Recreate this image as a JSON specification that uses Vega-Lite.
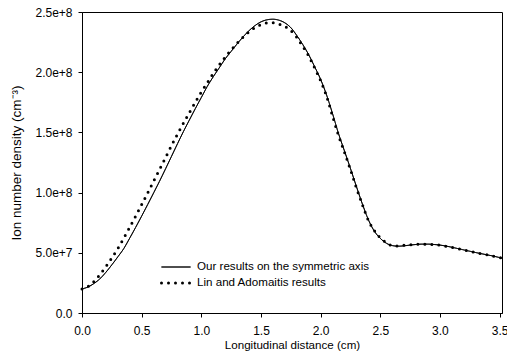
{
  "$schema": "https://vega.github.io/schema/vega-lite/v6.json",
  "width": 420,
  "height": 301,
  "autosize": {"type": "none"},
  "padding": {"left": 82, "top": 12, "right": 5, "bottom": 47},
  "background": "white",
  "config": {
    "font": "Liberation Sans",
    "view": {"stroke": "black", "strokeWidth": 1},
    "axis": {
      "domainColor": "black", "tickColor": "black", "labelColor": "black", "titleColor": "black",
      "grid": false, "tickSize": 4, "labelFontSize": 12, "titleFontSize": 11.6, "titleFontWeight": "normal",
      "labelFont": "Liberation Sans", "titleFont": "Liberation Sans"
    },
    "legend": {"labelFont": "Liberation Sans", "labelFontSize": 11.6, "labelColor": "black", "labelLimit": 0}
  },
  "data": {
    "values": [
      {"x": 0.00, "y": 2.0e7, "s": "Our results on the symmetric axis"},
      {"x": 0.05, "y": 2.16e7, "s": "Our results on the symmetric axis"},
      {"x": 0.10, "y": 2.45e7, "s": "Our results on the symmetric axis"},
      {"x": 0.15, "y": 2.84e7, "s": "Our results on the symmetric axis"},
      {"x": 0.20, "y": 3.38e7, "s": "Our results on the symmetric axis"},
      {"x": 0.25, "y": 4.0e7, "s": "Our results on the symmetric axis"},
      {"x": 0.30, "y": 4.66e7, "s": "Our results on the symmetric axis"},
      {"x": 0.35, "y": 5.35e7, "s": "Our results on the symmetric axis"},
      {"x": 0.40, "y": 6.22e7, "s": "Our results on the symmetric axis"},
      {"x": 0.45, "y": 7.12e7, "s": "Our results on the symmetric axis"},
      {"x": 0.50, "y": 8.05e7, "s": "Our results on the symmetric axis"},
      {"x": 0.55, "y": 9.0e7, "s": "Our results on the symmetric axis"},
      {"x": 0.60, "y": 9.97e7, "s": "Our results on the symmetric axis"},
      {"x": 0.65, "y": 1.095e8, "s": "Our results on the symmetric axis"},
      {"x": 0.70, "y": 1.197e8, "s": "Our results on the symmetric axis"},
      {"x": 0.75, "y": 1.301e8, "s": "Our results on the symmetric axis"},
      {"x": 0.80, "y": 1.405e8, "s": "Our results on the symmetric axis"},
      {"x": 0.85, "y": 1.507e8, "s": "Our results on the symmetric axis"},
      {"x": 0.90, "y": 1.603e8, "s": "Our results on the symmetric axis"},
      {"x": 0.95, "y": 1.698e8, "s": "Our results on the symmetric axis"},
      {"x": 1.00, "y": 1.79e8, "s": "Our results on the symmetric axis"},
      {"x": 1.05, "y": 1.882e8, "s": "Our results on the symmetric axis"},
      {"x": 1.10, "y": 1.962e8, "s": "Our results on the symmetric axis"},
      {"x": 1.15, "y": 2.036e8, "s": "Our results on the symmetric axis"},
      {"x": 1.20, "y": 2.11e8, "s": "Our results on the symmetric axis"},
      {"x": 1.25, "y": 2.173e8, "s": "Our results on the symmetric axis"},
      {"x": 1.30, "y": 2.235e8, "s": "Our results on the symmetric axis"},
      {"x": 1.35, "y": 2.293e8, "s": "Our results on the symmetric axis"},
      {"x": 1.40, "y": 2.345e8, "s": "Our results on the symmetric axis"},
      {"x": 1.45, "y": 2.387e8, "s": "Our results on the symmetric axis"},
      {"x": 1.50, "y": 2.418e8, "s": "Our results on the symmetric axis"},
      {"x": 1.55, "y": 2.435e8, "s": "Our results on the symmetric axis"},
      {"x": 1.60, "y": 2.44e8, "s": "Our results on the symmetric axis"},
      {"x": 1.65, "y": 2.432e8, "s": "Our results on the symmetric axis"},
      {"x": 1.70, "y": 2.41e8, "s": "Our results on the symmetric axis"},
      {"x": 1.75, "y": 2.37e8, "s": "Our results on the symmetric axis"},
      {"x": 1.80, "y": 2.305e8, "s": "Our results on the symmetric axis"},
      {"x": 1.85, "y": 2.23e8, "s": "Our results on the symmetric axis"},
      {"x": 1.90, "y": 2.145e8, "s": "Our results on the symmetric axis"},
      {"x": 1.95, "y": 2.045e8, "s": "Our results on the symmetric axis"},
      {"x": 2.00, "y": 1.94e8, "s": "Our results on the symmetric axis"},
      {"x": 2.05, "y": 1.81e8, "s": "Our results on the symmetric axis"},
      {"x": 2.10, "y": 1.655e8, "s": "Our results on the symmetric axis"},
      {"x": 2.15, "y": 1.49e8, "s": "Our results on the symmetric axis"},
      {"x": 2.20, "y": 1.345e8, "s": "Our results on the symmetric axis"},
      {"x": 2.25, "y": 1.2e8, "s": "Our results on the symmetric axis"},
      {"x": 2.30, "y": 1.05e8, "s": "Our results on the symmetric axis"},
      {"x": 2.35, "y": 9.05e7, "s": "Our results on the symmetric axis"},
      {"x": 2.40, "y": 7.75e7, "s": "Our results on the symmetric axis"},
      {"x": 2.45, "y": 6.8e7, "s": "Our results on the symmetric axis"},
      {"x": 2.50, "y": 6.2e7, "s": "Our results on the symmetric axis"},
      {"x": 2.55, "y": 5.8e7, "s": "Our results on the symmetric axis"},
      {"x": 2.60, "y": 5.6e7, "s": "Our results on the symmetric axis"},
      {"x": 2.65, "y": 5.55e7, "s": "Our results on the symmetric axis"},
      {"x": 2.70, "y": 5.58e7, "s": "Our results on the symmetric axis"},
      {"x": 2.75, "y": 5.64e7, "s": "Our results on the symmetric axis"},
      {"x": 2.80, "y": 5.69e7, "s": "Our results on the symmetric axis"},
      {"x": 2.85, "y": 5.72e7, "s": "Our results on the symmetric axis"},
      {"x": 2.90, "y": 5.72e7, "s": "Our results on the symmetric axis"},
      {"x": 2.95, "y": 5.69e7, "s": "Our results on the symmetric axis"},
      {"x": 3.00, "y": 5.64e7, "s": "Our results on the symmetric axis"},
      {"x": 3.05, "y": 5.56e7, "s": "Our results on the symmetric axis"},
      {"x": 3.10, "y": 5.46e7, "s": "Our results on the symmetric axis"},
      {"x": 3.15, "y": 5.35e7, "s": "Our results on the symmetric axis"},
      {"x": 3.20, "y": 5.24e7, "s": "Our results on the symmetric axis"},
      {"x": 3.25, "y": 5.13e7, "s": "Our results on the symmetric axis"},
      {"x": 3.30, "y": 5.02e7, "s": "Our results on the symmetric axis"},
      {"x": 3.35, "y": 4.92e7, "s": "Our results on the symmetric axis"},
      {"x": 3.40, "y": 4.82e7, "s": "Our results on the symmetric axis"},
      {"x": 3.45, "y": 4.72e7, "s": "Our results on the symmetric axis"},
      {"x": 3.52, "y": 4.55e7, "s": "Our results on the symmetric axis"},
      {"x": 0.00, "y": 2.0e7, "s": "Lin and Adomaitis results"},
      {"x": 0.05, "y": 2.2e7, "s": "Lin and Adomaitis results"},
      {"x": 0.10, "y": 2.62e7, "s": "Lin and Adomaitis results"},
      {"x": 0.15, "y": 3.18e7, "s": "Lin and Adomaitis results"},
      {"x": 0.20, "y": 3.85e7, "s": "Lin and Adomaitis results"},
      {"x": 0.25, "y": 4.58e7, "s": "Lin and Adomaitis results"},
      {"x": 0.30, "y": 5.35e7, "s": "Lin and Adomaitis results"},
      {"x": 0.35, "y": 6.22e7, "s": "Lin and Adomaitis results"},
      {"x": 0.40, "y": 7.12e7, "s": "Lin and Adomaitis results"},
      {"x": 0.45, "y": 8.05e7, "s": "Lin and Adomaitis results"},
      {"x": 0.50, "y": 9.0e7, "s": "Lin and Adomaitis results"},
      {"x": 0.55, "y": 9.97e7, "s": "Lin and Adomaitis results"},
      {"x": 0.60, "y": 1.095e8, "s": "Lin and Adomaitis results"},
      {"x": 0.65, "y": 1.193e8, "s": "Lin and Adomaitis results"},
      {"x": 0.70, "y": 1.291e8, "s": "Lin and Adomaitis results"},
      {"x": 0.75, "y": 1.39e8, "s": "Lin and Adomaitis results"},
      {"x": 0.80, "y": 1.485e8, "s": "Lin and Adomaitis results"},
      {"x": 0.85, "y": 1.576e8, "s": "Lin and Adomaitis results"},
      {"x": 0.90, "y": 1.664e8, "s": "Lin and Adomaitis results"},
      {"x": 0.95, "y": 1.751e8, "s": "Lin and Adomaitis results"},
      {"x": 1.00, "y": 1.835e8, "s": "Lin and Adomaitis results"},
      {"x": 1.05, "y": 1.912e8, "s": "Lin and Adomaitis results"},
      {"x": 1.10, "y": 1.99e8, "s": "Lin and Adomaitis results"},
      {"x": 1.15, "y": 2.06e8, "s": "Lin and Adomaitis results"},
      {"x": 1.20, "y": 2.125e8, "s": "Lin and Adomaitis results"},
      {"x": 1.25, "y": 2.185e8, "s": "Lin and Adomaitis results"},
      {"x": 1.30, "y": 2.24e8, "s": "Lin and Adomaitis results"},
      {"x": 1.35, "y": 2.29e8, "s": "Lin and Adomaitis results"},
      {"x": 1.40, "y": 2.335e8, "s": "Lin and Adomaitis results"},
      {"x": 1.45, "y": 2.37e8, "s": "Lin and Adomaitis results"},
      {"x": 1.50, "y": 2.395e8, "s": "Lin and Adomaitis results"},
      {"x": 1.55, "y": 2.409e8, "s": "Lin and Adomaitis results"},
      {"x": 1.60, "y": 2.41e8, "s": "Lin and Adomaitis results"},
      {"x": 1.65, "y": 2.399e8, "s": "Lin and Adomaitis results"},
      {"x": 1.70, "y": 2.38e8, "s": "Lin and Adomaitis results"},
      {"x": 1.75, "y": 2.345e8, "s": "Lin and Adomaitis results"},
      {"x": 1.80, "y": 2.29e8, "s": "Lin and Adomaitis results"},
      {"x": 1.85, "y": 2.215e8, "s": "Lin and Adomaitis results"},
      {"x": 1.90, "y": 2.135e8, "s": "Lin and Adomaitis results"},
      {"x": 1.95, "y": 2.035e8, "s": "Lin and Adomaitis results"},
      {"x": 2.00, "y": 1.93e8, "s": "Lin and Adomaitis results"},
      {"x": 2.05, "y": 1.8e8, "s": "Lin and Adomaitis results"},
      {"x": 2.10, "y": 1.635e8, "s": "Lin and Adomaitis results"},
      {"x": 2.15, "y": 1.475e8, "s": "Lin and Adomaitis results"},
      {"x": 2.20, "y": 1.335e8, "s": "Lin and Adomaitis results"},
      {"x": 2.25, "y": 1.19e8, "s": "Lin and Adomaitis results"},
      {"x": 2.30, "y": 1.04e8, "s": "Lin and Adomaitis results"},
      {"x": 2.35, "y": 9.0e7, "s": "Lin and Adomaitis results"},
      {"x": 2.40, "y": 7.7e7, "s": "Lin and Adomaitis results"},
      {"x": 2.45, "y": 6.85e7, "s": "Lin and Adomaitis results"},
      {"x": 2.50, "y": 6.25e7, "s": "Lin and Adomaitis results"},
      {"x": 2.55, "y": 5.85e7, "s": "Lin and Adomaitis results"},
      {"x": 2.60, "y": 5.6e7, "s": "Lin and Adomaitis results"},
      {"x": 2.65, "y": 5.56e7, "s": "Lin and Adomaitis results"},
      {"x": 2.70, "y": 5.63e7, "s": "Lin and Adomaitis results"},
      {"x": 2.75, "y": 5.67e7, "s": "Lin and Adomaitis results"},
      {"x": 2.80, "y": 5.71e7, "s": "Lin and Adomaitis results"},
      {"x": 2.85, "y": 5.72e7, "s": "Lin and Adomaitis results"},
      {"x": 2.90, "y": 5.71e7, "s": "Lin and Adomaitis results"},
      {"x": 2.95, "y": 5.68e7, "s": "Lin and Adomaitis results"},
      {"x": 3.00, "y": 5.63e7, "s": "Lin and Adomaitis results"},
      {"x": 3.05, "y": 5.55e7, "s": "Lin and Adomaitis results"},
      {"x": 3.10, "y": 5.45e7, "s": "Lin and Adomaitis results"},
      {"x": 3.15, "y": 5.34e7, "s": "Lin and Adomaitis results"},
      {"x": 3.20, "y": 5.24e7, "s": "Lin and Adomaitis results"},
      {"x": 3.25, "y": 5.12e7, "s": "Lin and Adomaitis results"},
      {"x": 3.30, "y": 5.01e7, "s": "Lin and Adomaitis results"},
      {"x": 3.35, "y": 4.92e7, "s": "Lin and Adomaitis results"},
      {"x": 3.40, "y": 4.82e7, "s": "Lin and Adomaitis results"},
      {"x": 3.45, "y": 4.72e7, "s": "Lin and Adomaitis results"},
      {"x": 3.52, "y": 4.55e7, "s": "Lin and Adomaitis results"}
    ]
  },
  "mark": {"type": "line", "interpolate": "monotone", "color": "black", "strokeCap": "round"},
  "encoding": {
    "x": {
      "field": "x", "type": "quantitative",
      "scale": {"domain": [0, 3.52], "nice": false, "zero": false},
      "axis": {"title": "Longitudinal distance (cm)", "values": [0, 0.5, 1, 1.5, 2, 2.5, 3, 3.5], "format": ".1f", "labelPadding": 8, "titlePadding": 3, "labelFlush": false}
    },
    "y": {
      "field": "y", "type": "quantitative",
      "scale": {"domain": [0, 2.5e8], "nice": false},
      "axis": {"title": "Ion number density (cm⁻³)", "titleFontSize": 13.5, "values": [0, 5e7, 1e8, 1.5e8, 2e8, 2.5e8], "labelExpr": "datum.value == 0 ? '0.0' : format(datum.value, '.1e')", "labelPadding": 6, "titlePadding": 11, "labelFlush": false}
    },
    "strokeDash": {
      "field": "s", "type": "nominal",
      "scale": {"domain": ["Our results on the symmetric axis", "Lin and Adomaitis results"], "range": [[1, 0], [0, 7]]},
      "legend": {"title": null, "orient": "none", "legendX": 78, "legendY": 247, "clipHeight": 16, "rowPadding": 0, "symbolSize": 841, "labelOffset": 5, "symbolType": "stroke", "symbolStrokeColor": "black", "encode": {"symbols": {"update": {"strokeCap": {"value": "round"}}}}}
    },
    "strokeWidth": {
      "field": "s", "type": "nominal",
      "scale": {"domain": ["Our results on the symmetric axis", "Lin and Adomaitis results"], "range": [1, 3]},
      "legend": {"title": null, "orient": "none", "legendX": 78, "legendY": 247, "clipHeight": 16, "rowPadding": 0, "symbolSize": 841, "labelOffset": 5, "symbolType": "stroke", "symbolStrokeColor": "black", "encode": {"symbols": {"update": {"strokeCap": {"value": "round"}}}}}
    }
  }
}
